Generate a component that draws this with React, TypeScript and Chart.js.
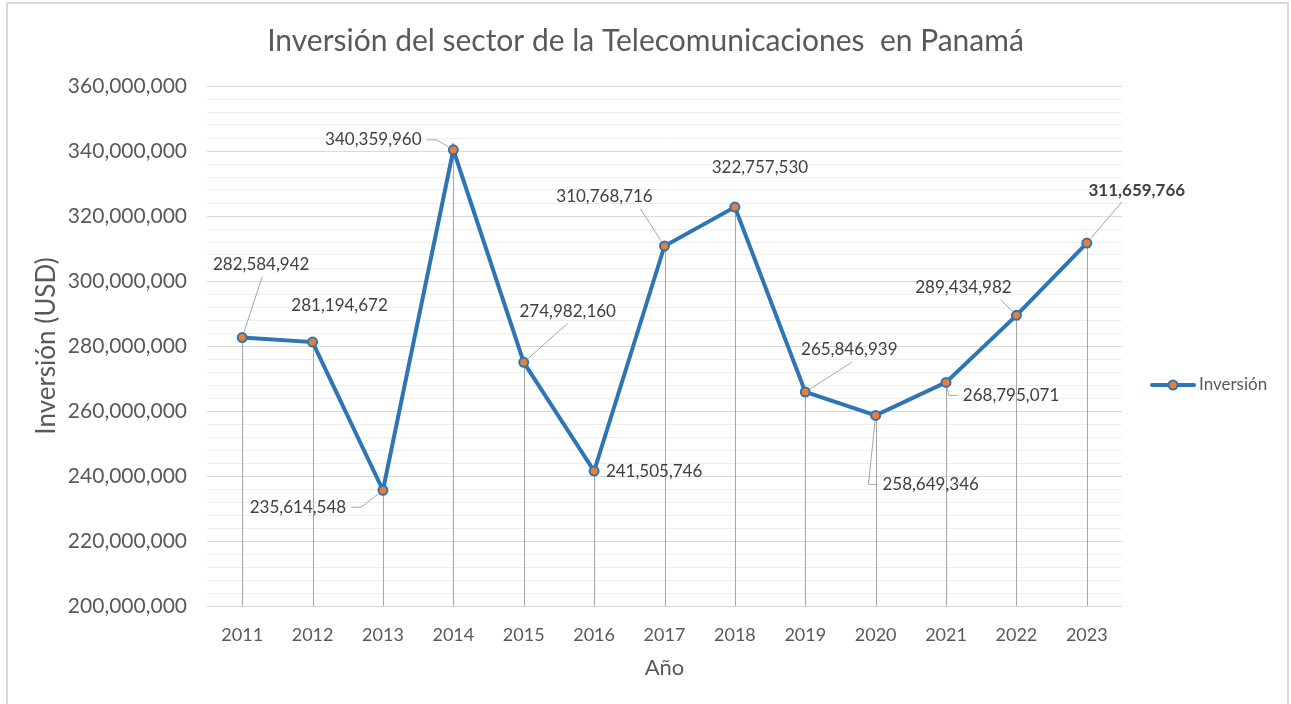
import React, { useEffect, useRef } from "react";
import { Chart, registerables } from "chart.js";

Chart.register(...registerables);

const years = ["2011", "2012", "2013", "2014", "2015", "2016", "2017", "2018", "2019", "2020", "2021", "2022", "2023"];
const inversion = [282584942, 281194672, 235614548, 340359960, 274982160, 241505746, 310768716, 322757530, 265846939, 258649346, 268795071, 289434982, 311659766];
const seriesName = "Inversión";
const chartTitle = "Inversión del sector de la Telecomunicaciones  en Panamá";
const xTitle = "Año";
const yTitle = "Inversión (USD)";
const yMin = 200000000;
const yMax = 360000000;
const yMajorStep = 20000000;
const yMinorStep = 4000000;

// label placement (pixel offsets from the point) and leader style
const labelLayout = [
  { dx: 19, dy: -73, lead: "B", ax: 1 },
  { dx: 27, dy: -37, lead: "none", ax: 0 },
  { dx: -85, dy: 17, lead: "R", ax: 0 },
  { dx: -80, dy: -10, lead: "R", ax: 0 },
  { dx: 44, dy: -51, lead: "B", ax: 0 },
  { dx: 60, dy: 0, lead: "none", ax: 0 },
  { dx: -60, dy: -49, lead: "B", ax: 36 },
  { dx: 25, dy: -40, lead: "none", ax: 0 },
  { dx: 44, dy: -42, lead: "B", ax: 3 },
  { dx: 55, dy: 69, lead: "L", ax: 0 },
  { dx: 65, dy: 13, lead: "L", ax: 0 },
  { dx: -53, dy: -28, lead: "B", ax: 37 },
  { dx: 50, dy: -53, lead: "B", ax: -15 },
];
const boldLabels = [false, false, false, false, false, false, false, false, false, false, false, false, true];

const FONT = "Lato, 'Open Sans', sans-serif";
const BLUE = "#2e75b6";
const ORANGE = "#ed7d31";
const fmt = (v: number) => v.toLocaleString("en-US");

const dropLines = {
  id: "dropLines",
  beforeDatasetsDraw(chart: any) {
    const { ctx, chartArea } = chart;
    const meta = chart.getDatasetMeta(0);
    ctx.save();
    ctx.strokeStyle = "#a6a6a6";
    ctx.lineWidth = 1;
    meta.data.forEach((p: any) => {
      const x = Math.round(p.x) + 0.5;
      ctx.beginPath();
      ctx.moveTo(x, p.y);
      ctx.lineTo(x, chartArea.bottom);
      ctx.stroke();
    });
    ctx.restore();
  },
};

const dataLabels = {
  id: "dataLabels",
  afterDatasetsDraw(chart: any) {
    const { ctx } = chart;
    const meta = chart.getDatasetMeta(0);
    const ds = chart.data.datasets[0];
    ctx.save();
    meta.data.forEach((p: any, i: number) => {
      const L = labelLayout[i];
      const text = fmt(ds.data[i]);
      ctx.font = `${boldLabels[i] ? "bold " : ""}17px ${FONT}`;
      const w = ctx.measureText(text).width;
      const cx = p.x + L.dx;
      const cy = p.y + L.dy;
      let pts: number[][] = [];
      if (L.lead === "R") {
        const a = cx + w / 2 + 5;
        pts = [[a, cy], [a + 10, cy]];
      } else if (L.lead === "L") {
        const a = cx - w / 2 - 5;
        pts = [[a, cy], [a - 9, cy]];
      } else if (L.lead === "B") {
        pts = [[cx + L.ax, cy + 12]];
      }
      if (pts.length) {
        const last = pts[pts.length - 1];
        const ddx = p.x - last[0];
        const ddy = p.y - last[1];
        const d = Math.hypot(ddx, ddy);
        const end = [p.x - (ddx / d) * 6, p.y - (ddy / d) * 6];
        ctx.strokeStyle = "#a6a6a6";
        ctx.lineWidth = 1;
        ctx.beginPath();
        ctx.moveTo(pts[0][0], pts[0][1]);
        for (let k = 1; k < pts.length; k++) ctx.lineTo(pts[k][0], pts[k][1]);
        ctx.lineTo(end[0], end[1]);
        ctx.stroke();
      }
      ctx.fillStyle = "#404040";
      ctx.textAlign = "center";
      ctx.textBaseline = "middle";
      ctx.fillText(text, cx, cy);
    });
    ctx.restore();
  },
};

const sideLegend = {
  id: "sideLegend",
  afterDraw(chart: any) {
    const { ctx, chartArea } = chart;
    const ds = chart.data.datasets[0];
    const x0 = chartArea.right + 30;
    const y = (chartArea.top + chartArea.bottom) / 2 + 39;
    ctx.save();
    ctx.strokeStyle = ds.borderColor;
    ctx.lineWidth = 4;
    ctx.lineCap = "round";
    ctx.beginPath();
    ctx.moveTo(x0, y);
    ctx.lineTo(x0 + 42, y);
    ctx.stroke();
    ctx.beginPath();
    ctx.arc(x0 + 21, y, 4.5, 0, Math.PI * 2);
    ctx.fillStyle = ds.pointBackgroundColor;
    ctx.fill();
    ctx.lineWidth = 2;
    ctx.strokeStyle = ds.pointBorderColor;
    ctx.stroke();
    ctx.fillStyle = "#595959";
    ctx.font = `17px ${FONT}`;
    ctx.textAlign = "left";
    ctx.textBaseline = "middle";
    ctx.fillText(ds.label, x0 + 47, y);
    ctx.restore();
  },
};

export default function App() {
  const ref = useRef<HTMLCanvasElement | null>(null);
  useEffect(() => {
    if (!ref.current) return;
    const chart = new Chart(ref.current, {
      type: "line",
      data: {
        labels: years,
        datasets: [
          {
            label: seriesName,
            data: inversion,
            borderColor: BLUE,
            borderWidth: 4,
            pointRadius: 4.5,
            pointBorderWidth: 2,
            pointBackgroundColor: ORANGE,
            pointBorderColor: BLUE,
            tension: 0,
          } as any,
        ],
      },
      options: {
        animation: false,
        responsive: true,
        maintainAspectRatio: false,
        layout: { padding: 0 },
        plugins: {
          legend: { display: false },
          tooltip: { enabled: false },
          title: {
            display: true,
            text: chartTitle,
            color: "#595959",
            font: { family: FONT, size: 30, weight: "normal" },
            padding: { top: 23, bottom: 27 },
          },
        },
        scales: {
          x: {
            type: "category",
            offset: true,
            grid: { display: false, drawTicks: false },
            border: { display: false },
            ticks: { color: "#595959", font: { family: FONT, size: 18 }, padding: 18, maxRotation: 0 },
            title: {
              display: true,
              text: xTitle,
              color: "#595959",
              font: { family: FONT, size: 22 },
              padding: { top: 0, bottom: 23 },
            },
            afterFit: (s: any) => {
              s.height = 98;
            },
          },
          y: {
            min: yMin,
            max: yMax,
            grid: {
              drawTicks: false,
              color: (c: any) => (c.tick && c.tick.value % yMajorStep === 0 ? "#d9d9d9" : "#ededed"),
              lineWidth: 1,
            },
            border: { display: false },
            ticks: {
              stepSize: yMinorStep,
              autoSkip: false,
              color: "#595959",
              font: { family: FONT, size: 21 },
              padding: 20,
              callback: (v: any) => (Number(v) % yMajorStep === 0 ? fmt(Number(v)) : ""),
            },
            title: {
              display: true,
              text: yTitle,
              color: "#595959",
              font: { family: FONT, size: 26 },
              padding: { top: 31, bottom: 0 },
            },
            afterFit: (s: any) => {
              s.width = 207;
            },
          },
          legendSpace: {
            type: "linear",
            position: "right",
            display: true,
            grid: { display: false, drawTicks: false },
            border: { display: false },
            ticks: { display: false },
            afterFit: (s: any) => {
              s.width = 169;
            },
          },
        },
      },
      plugins: [dropLines, dataLabels, sideLegend],
    });
    return () => chart.destroy();
  }, []);

  return (
    <div style={{ position: "fixed", left: 0, top: 0, width: 1291, height: 704, background: "#fff", overflow: "hidden" }}>
      <canvas ref={ref} />
      <div
        style={{
          position: "absolute",
          left: 6,
          top: 2,
          width: 1279,
          height: 740,
          border: "2px solid #d9d9d9",
          pointerEvents: "none",
        }}
      />
    </div>
  );
}
